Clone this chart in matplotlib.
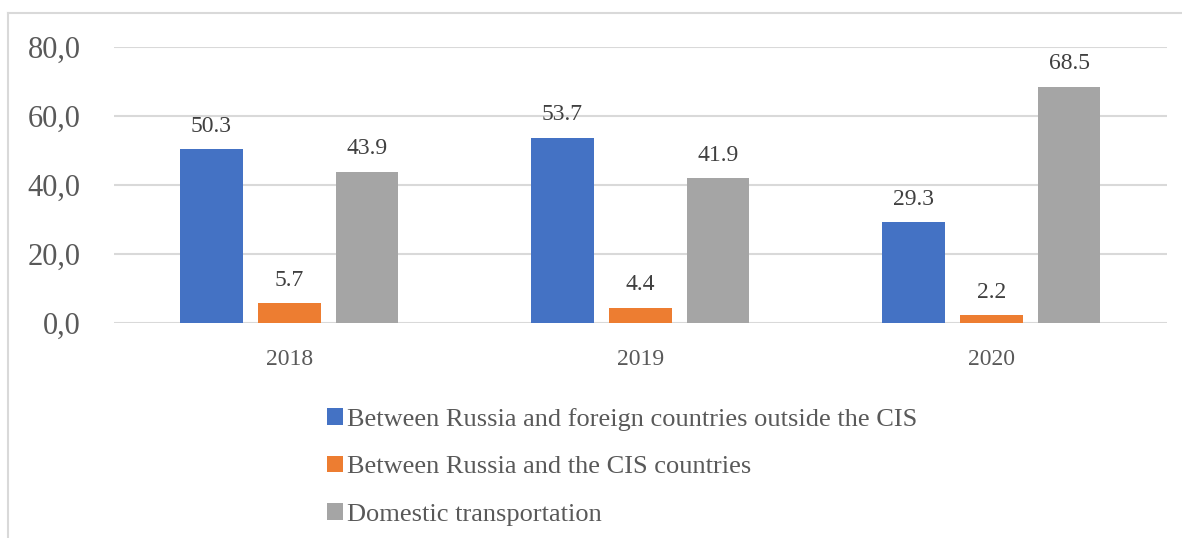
import numpy as np
import matplotlib.pyplot as plt
from matplotlib.lines import Line2D

years = ['2018', '2019', '2020']
series_names = [
    'Between Russia and foreign countries outside the CIS',
    'Between Russia and the CIS countries',
    'Domestic transportation',
]
outside_cis = [50.3, 53.7, 29.3]
with_cis = [5.7, 4.4, 2.2]
domestic = [43.9, 41.9, 68.5]
yticks = [0, 20, 40, 60, 80]

colors = ['#4472C4', '#ED7D31', '#A5A5A5']

plt.rcParams['font.family'] = ['Liberation Serif', 'DejaVu Serif']

fig = plt.figure(figsize=(11.82, 5.38), dpi=100)
ax = fig.add_axes([0.0964, 0.3996, 0.8909, 0.513])

x = np.arange(len(years))
width = 0.177
step = 0.222
for i, (vals, name) in enumerate(zip([outside_cis, with_cis, domestic], series_names)):
    pos = x + (i - 1) * step
    bars = ax.bar(pos, vals, width, color=colors[i], label=name, zorder=3)
    for b, v in zip(bars, vals):
        ax.annotate(f'{v:.1f}', (b.get_x() + b.get_width() / 2, v),
                    xytext=(0, 16.5), textcoords='offset points',
                    ha='center', va='center', fontsize=17, color='#404040')

ax.set_xlim(-0.5, 2.5)
ax.set_ylim(0, 80)
ax.set_xticks(x)
ax.set_xticklabels(years)
ax.set_yticks(yticks)
ax.set_yticklabels([f'{t:.1f}'.replace('.', ',') for t in yticks])
ax.tick_params(axis='x', length=0, pad=19, labelsize=17, labelcolor='#595959')
ax.tick_params(axis='y', length=0, pad=24, labelsize=22, labelcolor='#595959')
ax.grid(axis='y', color='#d9d9d9', linewidth=1.5, zorder=0)
for s in ax.spines.values():
    s.set_visible(False)

# outer chart frame (only top and left edges fall inside the image)
fx, fy = 8 / 1182, 1 - 13 / 538
fig.add_artist(Line2D([fx, fx], [0, fy], color='#d9d9d9', lw=1.5, transform=fig.transFigure))
fig.add_artist(Line2D([fx, 1], [fy, fy], color='#d9d9d9', lw=1.5, transform=fig.transFigure))

fig.legend(loc='upper left', bbox_to_anchor=(327 / 1182, 1 - 408 / 538),
           frameon=False, fontsize=19, labelcolor='#595959',
           handlelength=0.61, handleheight=0.61, handletextpad=0.15,
           labelspacing=0.93, borderpad=0, borderaxespad=0)

fig.savefig('out.png', dpi=100, facecolor='white')
